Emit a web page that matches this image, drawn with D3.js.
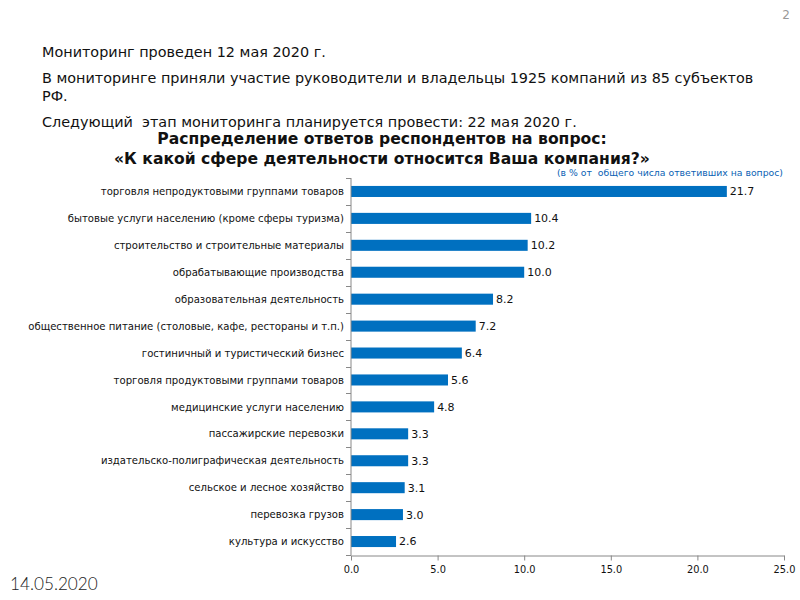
<!DOCTYPE html>
<html><head><meta charset="utf-8">
<script src="https://cdnjs.cloudflare.com/ajax/libs/d3/7.8.5/d3.min.js"></script>
<style>body{margin:0;background:#fff}svg{display:block}</style>
</head><body>
<script>
const categories = [
  "торговля непродуктовыми группами товаров",
  "бытовые услуги населению (кроме сферы туризма)",
  "строительство и строительные материалы",
  "обрабатывающие производства",
  "образовательная деятельность",
  "общественное питание (столовые, кафе, рестораны и т.п.)",
  "гостиничный и туристический бизнес",
  "торговля продуктовыми группами товаров",
  "медицинские услуги населению",
  "пассажирские перевозки",
  "издательско-полиграфическая деятельность",
  "сельское и лесное хозяйство",
  "перевозка грузов",
  "культура и искусство"
];
const values = [21.7, 10.4, 10.2, 10.0, 8.2, 7.2, 6.4, 5.6, 4.8, 3.3, 3.3, 3.1, 3.0, 2.6];
const xTicks = [0, 5, 10, 15, 20, 25];
const headerLines = [
  "Мониторинг проведен 12 мая 2020 г.",
  "В мониторинге приняли участие руководители и владельцы 1925 компаний из 85 субъектов",
  "РФ.",
  "Следующий  этап мониторинга планируется провести: 22 мая 2020 г."
];
const titleLines = [
  "Распределение ответов респондентов на вопрос:",
  "«К какой сфере деятельности относится Ваша компания?»"
];
const subtitle = "(в % от  общего числа ответивших на вопрос)";
const pageNumber = "2";
const dateText = "14.05.2020";

const svg = d3.select("body").append("svg").attr("width", 800).attr("height", 600);
const font = "DejaVu Sans, sans-serif";

// page number
svg.append("text").attr("x", 790).attr("y", 19).attr("text-anchor", "end")
  .attr("font-family", font).attr("font-size", 12).attr("fill", "#999").text(pageNumber);

// header
const headerY = [57, 83, 101, 127];
headerLines.forEach((t, i) => {
  svg.append("text").attr("x", 42).attr("y", headerY[i])
    .attr("font-family", font).attr("font-size", 14.4).attr("fill", "#111")
    .style("white-space", "pre").text(t);
});

// title
const titleY = [144, 164];
titleLines.forEach((t, i) => {
  svg.append("text").attr("x", 382).attr("y", titleY[i]).attr("text-anchor", "middle")
    .attr("font-family", font).attr("font-weight", "bold").attr("font-size", 15.6)
    .attr("fill", "#111").text(t);
});
svg.append("text").attr("x", 783).attr("y", 176).attr("text-anchor", "end")
  .attr("font-family", font).attr("font-size", 9.3).attr("fill", "#0a5fb4")
  .style("white-space", "pre").text(subtitle);

// chart
const x = d3.scaleLinear().domain([0, 25]).range([351, 784]);
const y = d3.scaleBand().domain(categories).range([178, 555]).paddingInner(0.59).paddingOuter(0.295);
const yOuter = d3.scaleBand().domain(categories).range([178, 555]);

svg.selectAll("rect.bar").data(values).enter().append("rect")
  .attr("class", "bar")
  .attr("x", x(0))
  .attr("y", (d, i) => y(categories[i]))
  .attr("width", d => x(d) - x(0))
  .attr("height", y.bandwidth())
  .attr("fill", "#0070c0");

svg.selectAll("text.val").data(values).enter().append("text")
  .attr("class", "val")
  .attr("x", d => x(d) + 3)
  .attr("y", (d, i) => y(categories[i]) + y.bandwidth() / 2)
  .attr("dy", "0.36em")
  .attr("font-family", font).attr("font-size", 11).attr("fill", "#111")
  .text(d => d.toFixed(1));

// category labels
svg.selectAll("text.cat").data(categories).enter().append("text")
  .attr("class", "cat")
  .attr("x", 344)
  .attr("y", d => yOuter(d) + yOuter.bandwidth() / 2)
  .attr("dy", "0.36em").attr("text-anchor", "end")
  .attr("font-family", font).attr("font-size", 10.1).attr("fill", "#111")
  .text(d => d);

// y axis line and ticks at band boundaries
const axisColor = "#888";
svg.append("line").attr("x1", x(0)).attr("x2", x(0)).attr("y1", 178).attr("y2", 555)
  .attr("stroke", axisColor).attr("stroke-width", 1);
const boundaries = categories.map(c => yOuter(c)).concat([555]);
svg.selectAll("line.ytick").data(boundaries).enter().append("line")
  .attr("class", "ytick")
  .attr("x1", x(0) - 5).attr("x2", x(0))
  .attr("y1", d => Math.round(d) + 0.5).attr("y2", d => Math.round(d) + 0.5)
  .attr("stroke", axisColor);

// x axis
const xAxis = d3.axisBottom(x).tickValues(xTicks).tickFormat(d3.format(".1f")).tickSize(5).tickSizeOuter(0);
const gx = svg.append("g").attr("transform", "translate(0,555.5)").call(xAxis);
gx.select(".domain").attr("stroke", axisColor);
gx.selectAll(".tick line").attr("stroke", axisColor);
gx.selectAll(".tick text").attr("font-family", font).attr("font-size", 9.8).attr("fill", "#111").attr("dy", "0.95em");

// date
svg.append("text").attr("x", 10).attr("y", 590)
  .attr("font-family", "Lato, sans-serif").attr("font-weight", 300).attr("font-size", 17.2).attr("fill", "#222")
  .text(dateText);
</script>
</body></html>
